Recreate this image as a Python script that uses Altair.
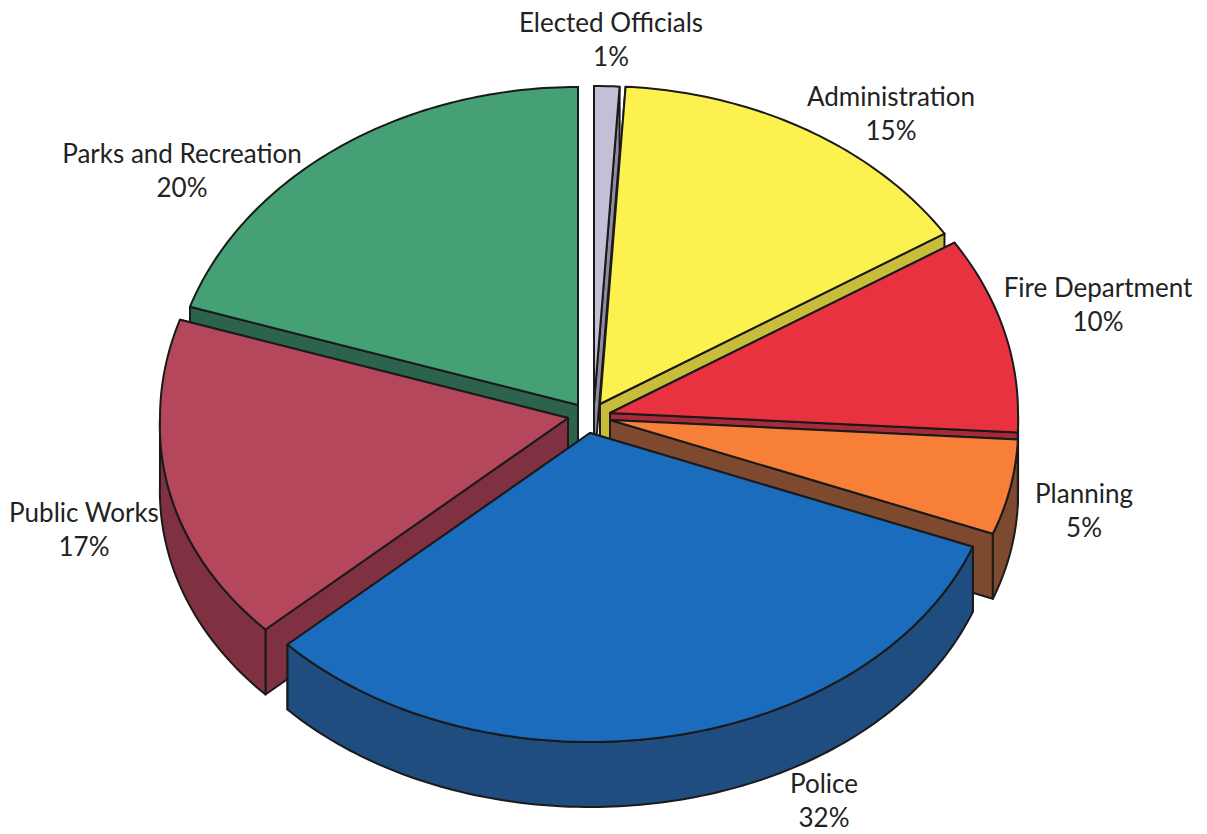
import math
import altair as alt

# Budget shares by department, clockwise from twelve o'clock
departments = ["Elected Officials", "Administration", "Fire Department", "Planning",
               "Police", "Public Works", "Parks and Recreation"]
shares = [1, 15, 10, 5, 32, 17, 20]
top_colors = ["#c4bfd6", "#fdf14f", "#e8323f", "#f77f38", "#1b6cbc", "#b5475c", "#45a076"]
wall_colors = ["#8f8ba0", "#c7bd3a", "#a52a3a", "#7d4a30", "#1f4d7f", "#7f3142", "#2c634c"]

# Apex of each exploded slice on the page
apexes = [(594, 404), (600, 404), (610, 413), (610, 420), (590, 433), (568, 418), (578, 405)]

# Layout of the tilted pie: the near half is foreshortened a little differently
RX, RY_BACK, RY_FRONT, DEPTH, WIDEN = 408, 318, 309, 65, 0.025
LINE = "#1a1a1a"
label_anchor = {
    "Elected Officials": (611, 24), "Administration": (891, 98),
    "Fire Department": (1098, 289), "Planning": (1084, 495),
    "Police": (824, 785), "Public Works": (84, 514),
    "Parks and Recreation": (182, 155),
}


def rim(apex, turn):
    c = math.cos(turn)
    ry = RY_BACK if c >= 0 else RY_FRONT
    rx = RX * (1 + WIDEN * max(0.0, -c))
    return (apex[0] + rx * math.sin(turn), apex[1] - ry * c)


def drop(points):
    return [(x, y + DEPTH) for x, y in points]


def polygon(points, fill):
    ring = [list(p) for p in points] + [list(points[0])]
    return {"type": "Feature", "geometry": {"type": "Polygon", "coordinates": [ring]},
            "properties": {"fill": fill}}


def slice_faces(i, start, end):
    apex = apexes[i]
    steps = max(4, int((end - start) * 60))
    arc = [rim(apex, start + (end - start) * k / steps) for k in range(steps + 1)]
    # The cut face reaching further up the page sits behind the other one
    cuts = sorted([arc[0], arc[-1]], key=lambda p: p[1])
    faces = [polygon([apex, p, *drop([p, apex])], wall_colors[i]) for p in cuts]
    # Only the part of the rim that faces the viewer gets an outer wall
    front = [p for k, p in enumerate(arc)
             if math.cos(start + (end - start) * k / steps) <= 0]
    if len(front) > 1:
        faces.append(polygon(front + drop(front)[::-1], wall_colors[i]))
    faces.append(polygon([apex, *arc], top_colors[i]))
    return faces


# Walk the shares to get each slice's angular span
spans = []
running = 0
for share in shares:
    spans.append((running / 100 * 2 * math.pi, (running + share) / 100 * 2 * math.pi))
    running += share

# Painter's order: back slices first, the nearest slice last
paint_order = [6, 0, 1, 2, 3, 5, 4]
features = []
for i in paint_order:
    features.extend(slice_faces(i, *spans[i]))

pie = alt.Chart(alt.Data(values=features)).mark_geoshape(
    stroke=LINE, strokeWidth=2, strokeJoin="round"
).encode(
    fill=alt.Fill("properties.fill:N", scale=None)
).project(type="identity", scale=1, translate=[0, 0])

label_rows = [
    {"label": f"{name}\n{share}%", "x": label_anchor[name][0], "y": label_anchor[name][1]}
    for name, share in zip(departments, shares)
]
labels = alt.Chart(alt.Data(values=label_rows)).mark_text(
    font="Lato", fontSize=26, color="#222222", lineBreak="\n", lineHeight=34,
    align="center", baseline="middle"
).encode(
    x=alt.X("x:Q", scale=None, axis=None),
    y=alt.Y("y:Q", scale=None, axis=None),
    text="label:N",
)

chart = alt.layer(pie, labels).properties(
    width=1207, height=834, padding=0, autosize="none", background="white"
).configure_view(stroke=None)

chart.save("out.html", embed_options={"renderer": "svg", "actions": False})
